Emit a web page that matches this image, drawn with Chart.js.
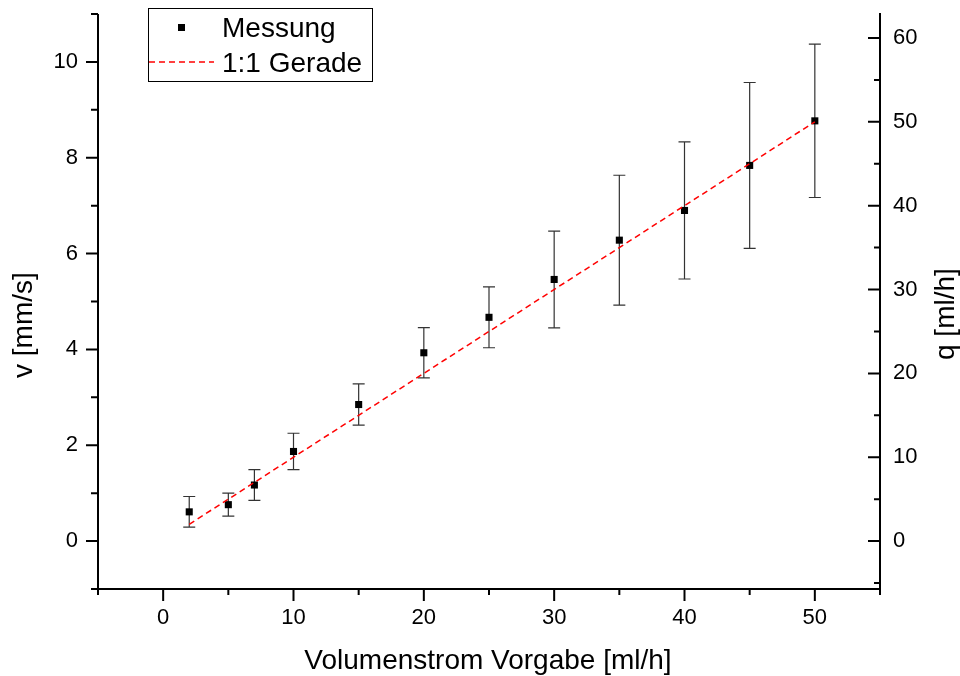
<!DOCTYPE html>
<html>
<head>
<meta charset="utf-8">
<script src="https://cdn.jsdelivr.net/npm/chart.js@4"></script>
<style>
  html, body { margin: 0; padding: 0; background: #fff; }
  #chart { display: block; }
</style>
</head>
<body>
<canvas id="chart" width="960" height="676"></canvas>
<script>
// Messwerte
const flowRates = [2, 5, 7, 10, 15, 20, 25, 30, 35, 40, 45, 50];
const velocity = [0.61, 0.76, 1.17, 1.87, 2.85, 3.93, 4.67, 5.46, 6.28, 6.90, 7.84, 8.77];
const velocityErr = [0.32, 0.24, 0.32, 0.38, 0.43, 0.525, 0.635, 1.01, 1.355, 1.43, 1.73, 1.6];

// 1:1 Gerade (auf der q-Achse)
const lineX = [2, 50];
const lineQ = [2, 50];

// Achsen
const xMajorTicks = [0, 10, 20, 30, 40, 50];
const xMinorTicks = [-5, 5, 15, 25, 35, 45, 55];
const vMajorTicks = [0, 2, 4, 6, 8, 10];
const vMinorTicks = [-1, 1, 3, 5, 7, 9, 11];
const qMajorTicks = [0, 10, 20, 30, 40, 50, 60];
const qMinorTicks = [-5, 5, 15, 25, 35, 45, 55];
const vRange = [-1, 11];
const qPerV = 60 / 10.5; // Umrechnung v -> q

const FONT = "'Liberation Sans', Arial, Helvetica, sans-serif";

// Fehlerbalken hinter den Punkten
const errorBars = {
  id: 'errorBars',
  beforeDatasetsDraw(chart) {
    const { ctx, scales } = chart;
    ctx.save();
    ctx.strokeStyle = '#333';
    ctx.lineWidth = 1.2;
    flowRates.forEach((x, i) => {
      const px = scales.x.getPixelForValue(x);
      const top = scales.yv.getPixelForValue(velocity[i] + velocityErr[i]);
      const bot = scales.yv.getPixelForValue(velocity[i] - velocityErr[i]);
      ctx.beginPath();
      ctx.moveTo(px, top); ctx.lineTo(px, bot);
      ctx.moveTo(px - 6, top); ctx.lineTo(px + 6, top);
      ctx.moveTo(px - 6, bot); ctx.lineTo(px + 6, bot);
      ctx.stroke();
    });
    ctx.restore();
  }
};

// Achsenlinien, Ticks, Titel und Legende im Origin-Stil
const frame = {
  id: 'frame',
  afterDraw(chart) {
    const { ctx, chartArea: a, scales } = chart;
    ctx.save();
    ctx.strokeStyle = '#000';
    ctx.lineWidth = 2;
    ctx.beginPath();
    ctx.moveTo(a.left, a.top); ctx.lineTo(a.left, a.bottom);
    ctx.moveTo(a.left - 1, a.bottom); ctx.lineTo(a.right + 1, a.bottom);
    ctx.moveTo(a.right, a.top - 1); ctx.lineTo(a.right, a.bottom);
    // links, nach aussen
    vMajorTicks.forEach(v => { const y = scales.yv.getPixelForValue(v); ctx.moveTo(a.left - 12, y); ctx.lineTo(a.left, y); });
    vMinorTicks.forEach(v => { const y = scales.yv.getPixelForValue(v); ctx.moveTo(a.left - 7, y); ctx.lineTo(a.left, y); });
    // unten, nach aussen
    xMajorTicks.forEach(v => { const x = scales.x.getPixelForValue(v); ctx.moveTo(x, a.bottom); ctx.lineTo(x, a.bottom + 12); });
    xMinorTicks.forEach(v => { const x = scales.x.getPixelForValue(v); ctx.moveTo(x, a.bottom); ctx.lineTo(x, a.bottom + 6); });
    // rechts, nach innen
    qMajorTicks.forEach(v => { const y = scales.yq.getPixelForValue(v); ctx.moveTo(a.right - 12, y); ctx.lineTo(a.right, y); });
    qMinorTicks.forEach(v => { const y = scales.yq.getPixelForValue(v); ctx.moveTo(a.right - 6, y); ctx.lineTo(a.right, y); });
    ctx.stroke();

    // Achsentitel
    ctx.fillStyle = '#000';
    ctx.font = '28px ' + FONT;
    ctx.textBaseline = 'alphabetic';
    ctx.textAlign = 'center';
    ctx.fillText('Volumenstrom Vorgabe [ml/h]', 488, 669);
    ctx.textAlign = 'left';
    ctx.save();
    ctx.translate(32, 378); ctx.rotate(-Math.PI / 2);
    ctx.fillText('v [mm/s]', 0, 0);
    ctx.restore();
    ctx.save();
    ctx.translate(954, 360); ctx.rotate(-Math.PI / 2);
    ctx.fillText('q [ml/h]', 0, 0);
    ctx.restore();

    // Legende
    ctx.lineWidth = 1;
    ctx.strokeRect(148.5, 8.5, 224, 73);
    ctx.fillRect(178, 24, 7, 7);
    ctx.strokeStyle = '#ff0000';
    ctx.lineWidth = 1.5;
    ctx.setLineDash([6, 4]);
    ctx.beginPath();
    ctx.moveTo(149, 62); ctx.lineTo(214, 62);
    ctx.stroke();
    ctx.setLineDash([]);
    ctx.fillText('Messung', 222, 37);
    ctx.fillText('1:1 Gerade', 222, 72);
    ctx.restore();
  }
};

function fixSize(prop, size) {
  return scale => {
    scale[prop] = size;
    scale.paddingTop = 0; scale.paddingBottom = 0;
    scale.paddingLeft = 0; scale.paddingRight = 0;
  };
}
function setTicks(values) {
  return scale => { scale.ticks = values.map(v => ({ value: v })); };
}
const tickFont = { family: FONT, size: 22 };

new Chart(document.getElementById('chart'), {
  type: 'scatter',
  data: {
    datasets: [
      {
        label: '1:1 Gerade',
        data: lineX.map((x, i) => ({ x: x, y: lineQ[i] })),
        yAxisID: 'yq',
        showLine: true,
        borderColor: '#ff0000',
        borderWidth: 1.5,
        borderDash: [6, 4],
        pointRadius: 0
      },
      {
        label: 'Messung',
        data: flowRates.map((x, i) => ({ x: x, y: velocity[i] })),
        yAxisID: 'yv',
        pointStyle: 'rect',
        pointRadius: 5,
        backgroundColor: '#000',
        borderColor: '#000',
        borderWidth: 0
      }
    ]
  },
  options: {
    responsive: false,
    animation: false,
    layout: { padding: { top: 14, left: 0, right: 0, bottom: 0 } },
    plugins: { legend: { display: false }, tooltip: { enabled: false } },
    scales: {
      x: {
        type: 'linear', position: 'bottom', min: -5, max: 55,
        afterBuildTicks: setTicks(xMajorTicks),
        afterFit: fixSize('height', 87),
        grid: { display: false, drawTicks: false },
        border: { display: false },
        ticks: { padding: 16, font: tickFont, color: '#000', maxRotation: 0, autoSkip: false }
      },
      yv: {
        type: 'linear', position: 'left', min: vRange[0], max: vRange[1],
        afterBuildTicks: setTicks(vMajorTicks),
        afterFit: fixSize('width', 98),
        grid: { display: false, drawTicks: false },
        border: { display: false },
        ticks: { padding: 20, font: tickFont, color: '#000', autoSkip: false }
      },
      yq: {
        type: 'linear', position: 'right', min: vRange[0] * qPerV, max: vRange[1] * qPerV,
        afterBuildTicks: setTicks(qMajorTicks),
        afterFit: fixSize('width', 80),
        grid: { display: false, drawTicks: false },
        border: { display: false },
        ticks: { padding: 13, font: tickFont, color: '#000', autoSkip: false }
      }
    }
  },
  plugins: [errorBars, frame]
});
</script>
</body>
</html>
